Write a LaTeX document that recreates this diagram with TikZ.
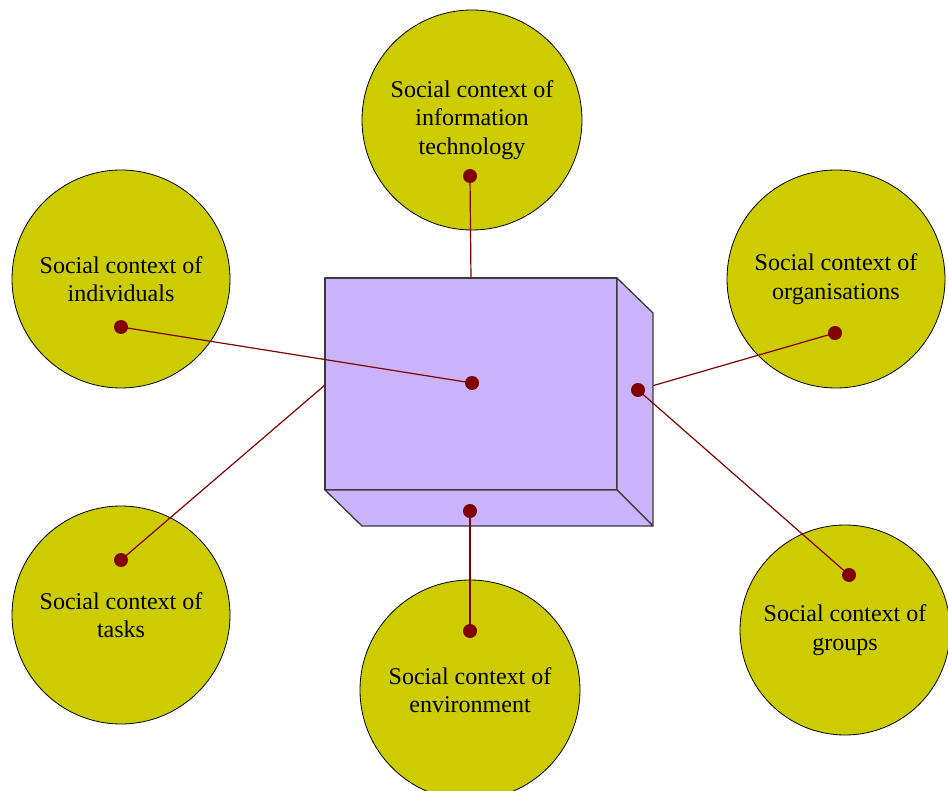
\documentclass[tikz,border=0pt]{standalone}
\usepackage{fontspec}
\setmainfont{Liberation Serif}
\definecolor{ctxfill}{HTML}{CCCC00}
\definecolor{boxfill}{HTML}{CBB3FE}
\definecolor{pin}{HTML}{800000}
\definecolor{boxedge}{HTML}{3A3A3A}
\begin{document}
\begin{tikzpicture}[x=1pt,y=-1pt,
  context/.style={circle, draw=black, line width=0.8pt, fill=ctxfill,
    minimum size=#1, inner sep=0pt, align=center,
    font=\fontsize{24}{28.5}\selectfont},
  pindot/.style={circle, fill=pin, minimum size=14pt, inner sep=0pt},
  link/.style={draw=pin, line width=1.2pt},
  face/.style={fill=boxfill, draw=boxedge, line width=1.3pt, line join=round}]
\useasboundingbox (0,0) rectangle (948,791);

% the six social contexts
\node[context=220pt] (it)    at (472,120) {Social context of\\information\\technology};
\node[context=218pt] (indiv) at (121,279) {Social context of\\individuals};
\node[context=218pt] (org)   at (836,279) {Social context of\\organisations};
\node[context=218pt] (task)  at (121,615) {Social context of\\tasks};
\node[context=220pt] (env)   at (470,690) {Social context of\\environment};
\node[context=210pt] (grp)   at (845,630) {Social context of\\groups};

% pins inside the circles and on the box
\coordinate (itpin)   at (470,176);
\coordinate (indpin)  at (121,327);
\coordinate (orgpin)  at (835,333);
\coordinate (taskpin) at (121,560);
\coordinate (envpin)  at (470,631);
\coordinate (grppin)  at (849,575);
\coordinate (cpin)    at (472,383);
\coordinate (rpin)    at (638,390);
\coordinate (bpin)    at (470,511);
\coordinate (leftin)  at (325,385);

% connectors that pass behind the box
\draw[link] (itpin) -- (cpin);
\draw[link] (orgpin) -- (rpin);
\draw[link] (taskpin) -- (leftin);

% the box: front, right and bottom faces
\coordinate (ftl) at (325,278);
\coordinate (ftr) at (617,278);
\coordinate (fbr) at (617,490);
\coordinate (fbl) at (325,490);
\coordinate (btr) at (653,313);
\coordinate (bbr) at (653,526);
\coordinate (bbl) at (362,526);
\filldraw[face] (ftl) rectangle (fbr);
\filldraw[face] (ftr) -- (btr) -- (bbr) -- (fbr) -- cycle;
\filldraw[face] (fbl) -- (fbr) -- (bbr) -- (bbl) -- cycle;

% connectors drawn over the box
\draw[link] (indpin) -- (cpin);
\draw[link] (rpin) -- (grppin);
\draw[link] (envpin) -- (bpin);

% pin heads
\foreach \p in {itpin,indpin,orgpin,taskpin,envpin,grppin,cpin,rpin,bpin}
  \node[pindot] (dot-\p) at (\p) {};
\end{tikzpicture}
\end{document}
